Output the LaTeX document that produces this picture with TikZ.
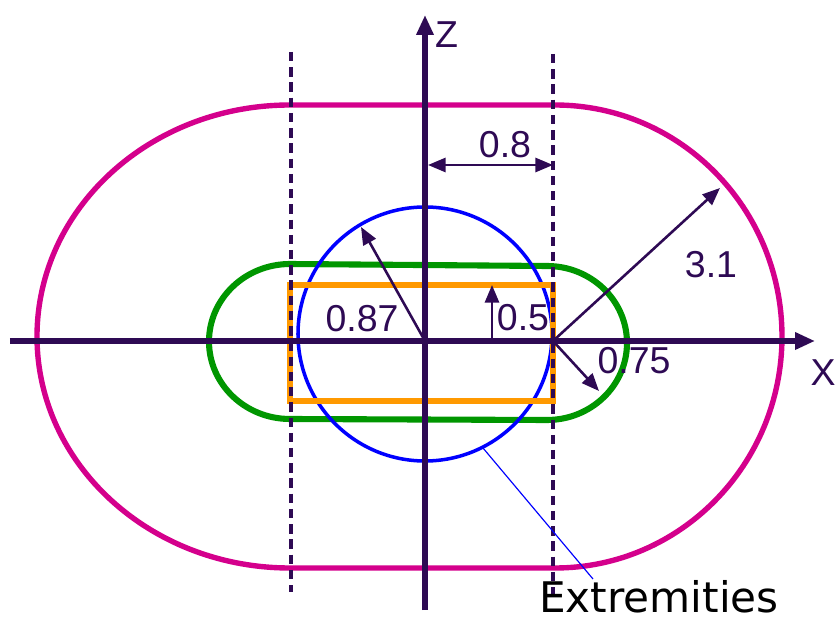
\documentclass[tikz,border=0pt]{standalone}
\usepackage{fontspec}
\setmainfont{Liberation Sans}
\newfontfamily\handfont{DejaVu Sans}
\usetikzlibrary{arrows.meta, positioning, calc}
\definecolor{axisviolet}{RGB}{46,10,84}
\definecolor{outermag}{RGB}{212,0,140}
\definecolor{midgreen}{RGB}{0,150,0}
\definecolor{boxorange}{RGB}{255,153,0}
\tikzset{
  axis/.style={axisviolet, line width=4.4pt, -{Triangle[length=17pt,width=14pt]}},
  dim/.style={axisviolet, line width=2.2pt, -{Triangle[length=15pt,width=12pt]}},
  guide/.style={axisviolet, line width=2.6pt, dash pattern=on 8pt off 5pt},
  lbl/.style={text=axisviolet, font=\fontsize{32}{38}\selectfont, inner sep=0pt}
}

\begin{document}
\begin{tikzpicture}[x=0.03cm, y=0.03cm]
  \useasboundingbox (-425,-280) rectangle (412,341);
  \coordinate (O) at (0,0);

  % outer (magenta) contour
  \draw[outermag, line width=4.6pt]
    (-135,236) -- (130,236) arc[start angle=90, end angle=-90, x radius=227, y radius=231.5]
    -- (-135,-227) arc[start angle=270, end angle=90, x radius=253, y radius=231.5] -- cycle;

  % middle (green) contour
  \draw[midgreen, line width=5.2pt]
    (-135,77) -- (122,75) arc[start angle=90, end angle=-90, x radius=80, y radius=77]
    -- (-135,-78) arc[start angle=270, end angle=90, x radius=81, y radius=77.5] -- cycle;

  % blue circle and orange box
  \draw[blue, line width=3pt] (0,7) circle (127);
  \draw[boxorange, line width=5.2pt] (-135,-60) rectangle (128,56);

  % dashed guides
  \draw[guide] (-134,289) -- (-134,-251);
  \draw[guide] (128,287) -- (128,-259);

  % axes
  \coordinate (Zb) at (0,-269);
  \coordinate (Zt) at (0,326);
  \coordinate (Xl) at (-415,0);
  \coordinate (Xr) at (390,0);
  \draw[axis] (Zb) -- (Zt);
  \draw[axis] (Xl) -- (Xr);
  \node[lbl, anchor=west] (zlab) at (10,306) {Z};
  \node[lbl] (xlab) at (398,-32) {X};

  % dimensions
  \coordinate (Ra) at (128,0);
  \coordinate (Hl) at (3,176);
  \coordinate (Hr) at (128,176);
  \draw[dim, {Triangle[length=15pt,width=12pt]}-{Triangle[length=15pt,width=12pt]}] (Hl) -- (Hr);
  \node[lbl] (d08) at (80,196) {0.8};

  \coordinate (Rc) at (-64,114);
  \draw[dim] (O) -- (Rc);
  \node[lbl] (d087) at (-63,22) {0.87};

  \coordinate (Hb) at (67,0);
  \coordinate (Ht) at (67,56);
  \draw[dim] (Hb) -- (Ht);
  \node[lbl] (d05) at (98,23) {0.5};

  \coordinate (Ro) at (295,153);
  \draw[dim] (Ra) -- (Ro);
  \node[lbl] (d31) at (286,76) {3.1};

  \coordinate (Rg) at (174,-50);
  \draw[dim] (Ra) -- (Rg);
  \node[lbl] (d075) at (209,-20) {0.75};

  % extremities callout
  \node[font=\handfont\fontsize{36}{42}\selectfont, inner sep=0pt, anchor=base] (ext) at (234,-271) {Extremities};
  \coordinate (Ep) at (58,-107);
  \coordinate (Ee) at (168,-238);
  \draw[blue, line width=1pt] (Ep) -- (Ee);
\end{tikzpicture}
\end{document}
